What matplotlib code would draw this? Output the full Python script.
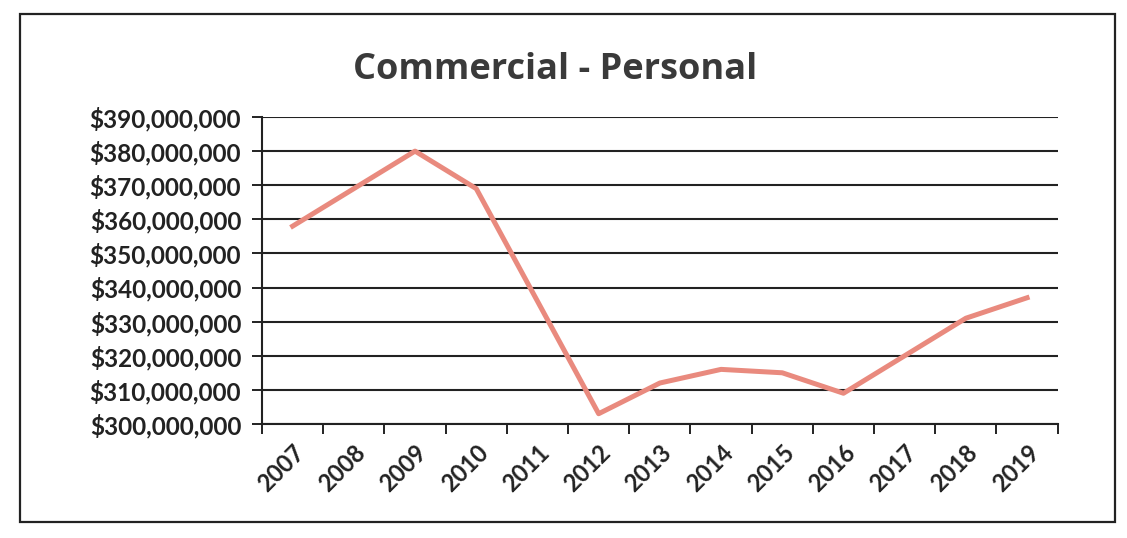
import matplotlib.pyplot as plt
import matplotlib.ticker as mticker
from matplotlib.patches import Rectangle

years = ['2007', '2008', '2009', '2010', '2011', '2012', '2013',
         '2014', '2015', '2016', '2017', '2018', '2019']
values = [358.0, 369.0, 380.0, 369.0, 336.0, 303.0, 312.0,
          316.0, 315.0, 309.0, 320.0, 331.0, 337.0]  # millions of dollars
y_ticks = [300, 310, 320, 330, 340, 350, 360, 370, 380, 390]

plt.rcParams['font.family'] = ['Lato', 'DejaVu Sans']

fig = plt.figure(figsize=(11.27, 5.38), dpi=100)
ax = fig.add_axes([0.2325, 0.212, 0.706, 0.5705])

# рамка вокруг всей диаграммы
fig.patches.append(Rectangle((20 / 1127, 1 - 522 / 538), 1095 / 1127, 508 / 538,
                             transform=fig.transFigure, fill=False,
                             edgecolor='#222222', linewidth=1.6))

x = list(range(len(years)))
ax.plot(x, [v * 1e6 for v in values], color='#E98A7E', linewidth=3.6,
        solid_joinstyle='round', zorder=3)

ax.set_xlim(-0.5, len(years) - 0.5)
ax.set_ylim(300e6, 390e6)

# подписи категорий по центру, засечки на границах
ax.set_xticks(x)
ax.set_xticklabels(years, rotation=45, ha='right', rotation_mode='anchor',
                   fontsize=17, fontweight='bold', color='#222222')
ax.xaxis.set_minor_locator(mticker.FixedLocator([i - 0.5 for i in range(len(years) + 1)]))
ax.tick_params(axis='x', which='major', length=0, pad=12)
ax.tick_params(axis='x', which='minor', length=7, width=1.4, color='#222222', direction='out')

ax.set_yticks([t * 1e6 for t in y_ticks])
ax.yaxis.set_major_formatter(mticker.FuncFormatter(lambda v, p: f'${v:,.0f}'))
ax.tick_params(axis='y', length=7, width=1.4, color='#222222', pad=8,
               labelsize=17.5, labelcolor='#222222')
for lbl in ax.get_yticklabels():
    lbl.set_fontweight('bold')

ax.grid(axis='y', color='#222222', linewidth=1.5)
ax.set_axisbelow(True)
for side in ['top', 'right']:
    ax.spines[side].set_visible(False)
for side in ['left', 'bottom']:
    ax.spines[side].set_color('#222222')
    ax.spines[side].set_linewidth(1.5)

fig.text(555 / 1127, 1 - 70 / 538, 'Commercial - Personal', ha='center', va='center',
         fontsize=26, fontweight='bold', color='#3a3a3a', family=['Open Sans', 'DejaVu Sans'])

fig.savefig('out.png', dpi=100)
